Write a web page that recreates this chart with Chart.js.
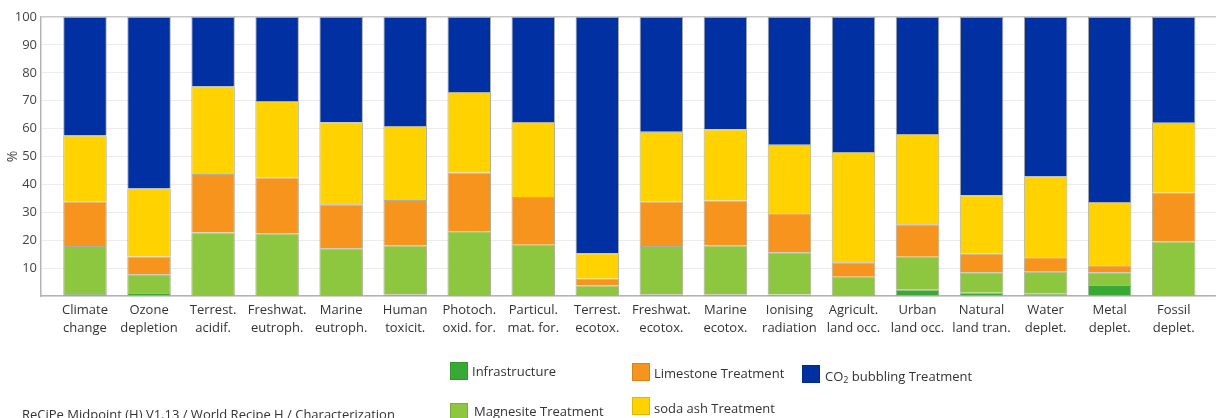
<!DOCTYPE html>
<html>
<head>
<meta charset="utf-8">
<script src="https://cdn.jsdelivr.net/npm/chart.js@4/dist/chart.umd.min.js"></script>
<style>
    body { margin: 0; overflow: hidden; background: #fff; font-family: "Open Sans", sans-serif; color: #333; }
    #wrap { position: relative; width: 1216px; height: 418px; }
    .legend_item { position: absolute; font-size: 13px; line-height: 18px; white-space: nowrap; }
    .legend_box { position: absolute; width: 18px; height: 18px; box-sizing: border-box; border: 1px solid rgba(0,0,0,0.12); }
    .legend_item sub { font-size: 9px; vertical-align: -2px; }
    #footer { position: absolute; left: 22px; top: 405px; font-size: 13px; white-space: nowrap; }
</style>
</head>
<body>
<div id="wrap">
    <canvas id="recipe_chart" width="1216" height="418"></canvas>
    <div id="legend"></div>
    <div id="footer">ReCiPe Midpoint (H) V1.13 / World Recipe H / Characterization</div>
</div>
<script>
// Data

const categories = [
    ['Climate', 'change'], ['Ozone', 'depletion'], ['Terrest.', 'acidif.'], ['Freshwat.', 'eutroph.'],
    ['Marine', 'eutroph.'], ['Human', 'toxicit.'], ['Photoch.', 'oxid. for.'], ['Particul.', 'mat. for.'],
    ['Terrest.', 'ecotox.'], ['Freshwat.', 'ecotox.'], ['Marine', 'ecotox.'], ['Ionising', 'radiation'],
    ['Agricult.', 'land occ.'], ['Urban', 'land occ.'], ['Natural', 'land tran.'], ['Water', 'deplet.'],
    ['Metal', 'deplet.'], ['Fossil', 'deplet.']
];

const infrastructure = [0.7, 1.1, 0.4, 0.4, 0.4, 0.6, 0.4, 0.4, 0.4, 0.6, 0.6, 0.5, 0.4, 2.2, 1.2, 0.8, 3.9, 0.4];
const magnesite      = [17.2, 6.7, 22.4, 22.0, 16.7, 17.5, 22.8, 18.0, 3.4, 17.3, 17.5, 15.2, 6.5, 11.9, 7.3, 7.9, 4.6, 19.1];
const limestone      = [16.0, 6.4, 20.9, 20.1, 15.8, 16.3, 21.1, 17.1, 2.4, 16.0, 16.1, 14.0, 5.2, 11.6, 6.6, 5.2, 2.5, 17.5];
const sodaAsh        = [23.6, 24.3, 31.4, 27.4, 29.4, 26.5, 28.8, 26.9, 9.1, 25.0, 25.6, 24.5, 39.5, 32.4, 21.0, 28.9, 22.7, 25.1];
const co2Bubbling    = [42.5, 61.5, 24.9, 30.1, 37.7, 39.1, 26.9, 37.6, 84.7, 41.1, 40.2, 45.8, 48.4, 41.9, 63.9, 57.2, 66.3, 37.9];

const yTicks = [10, 20, 30, 40, 50, 60, 70, 80, 90, 100];

// Series, bottom to top

const series = [
    { label: 'Infrastructure', values: infrastructure, color: '#38a935' },
    { label: 'Magnesite Treatment', values: magnesite, color: '#8dc63f' },
    { label: 'Limestone Treatment', values: limestone, color: '#f7941e' },
    { label: 'soda ash Treatment', values: sodaAsh, color: '#ffd200' },
    { label: 'CO<sub>2</sub> bubbling Treatment', values: co2Bubbling, color: '#0030a2' }
];

const toPoints = function(values) {
    return values.map((v, i) => ({ x: i, y: v }));
}

const datasets = series.map(s => ({
    label: s.label.replace(/<\/?sub>/g, ''),
    data: toPoints(s.values),
    backgroundColor: s.color,
    borderColor: 'rgba(95, 95, 60, 0.5)',
    borderWidth: 1,
    categoryPercentage: 1,
    barPercentage: 0.68
}));

// Chart config

const ctx = document.getElementById('recipe_chart').getContext('2d');
const recipeChart = new Chart(ctx, {
    type: 'bar',
    data: { datasets: datasets },
    options: {
        responsive: false,
        animation: false,
        layout: { padding: { top: 17, left: 0, right: 0, bottom: 0 } },
        plugins: {
            legend: { display: false },
            tooltip: { enabled: false }
        },
        scales: {
            x: {
                type: 'linear',
                stacked: true,
                offset: false,
                min: -0.687,
                max: 17.661,
                afterFit: function(scale) {
                    scale.height = 122;
                    scale.paddingLeft = 0;
                    scale.paddingRight = 0;
                },
                afterBuildTicks: function(scale) {
                    scale.ticks = categories.map((c, i) => ({ value: i }));
                },
                grid: { display: false, drawTicks: false },
                border: { display: true, color: '#b4b4b4', width: 1.5 },
                ticks: {
                    autoSkip: false,
                    maxRotation: 0,
                    padding: 5,
                    color: '#333',
                    font: { family: 'Open Sans', size: 13, lineHeight: 1.4 },
                    callback: function(value) { return categories[value]; }
                }
            },
            y: {
                stacked: true,
                min: 0,
                max: 100,
                afterFit: function(scale) { scale.width = 41; },
                afterBuildTicks: function(scale) {
                    scale.ticks = [{ value: 0 }].concat(yTicks.map(v => ({ value: v })));
                },
                grid: {
                    drawTicks: false,
                    color: function(c) { return c.tick && c.tick.value === 100 ? '#c8c8c8' : '#ececec'; },
                    lineWidth: function(c) { return c.tick && c.tick.value === 100 ? 1.5 : 1; }
                },
                border: { display: true, color: '#b4b4b4', width: 1.5 },
                ticks: {
                    padding: 4,
                    color: '#444',
                    font: { family: 'Open Sans', size: 13 },
                    callback: function(value) { return value === 0 ? '' : value; }
                },
                title: {
                    display: true,
                    text: '%',
                    color: '#444',
                    padding: { top: 5, bottom: 0 },
                    font: { family: 'Open Sans', size: 14 }
                }
            }
        }
    }
});

// Legend, laid out in columns like the original

const legendSpots = [
    { box: [450, 362], text: [472, 362] },
    { box: [450, 403], text: [474, 402] },
    { box: [632, 363], text: [654, 364] },
    { box: [632, 397], text: [654, 399] },
    { box: [802, 365], text: [825, 367] }
];

const legend = document.getElementById('legend');
series.forEach((s, i) => {
    const spot = legendSpots[i];
    const box = document.createElement('div');
    box.setAttribute('class', 'legend_box');
    box.style.left = spot.box[0] + 'px';
    box.style.top = spot.box[1] + 'px';
    box.style.background = s.color;
    const text = document.createElement('div');
    text.setAttribute('class', 'legend_item');
    text.style.left = spot.text[0] + 'px';
    text.style.top = spot.text[1] + 'px';
    text.innerHTML = s.label;
    legend.append(box, text);
})
</script>
</body>
</html>
